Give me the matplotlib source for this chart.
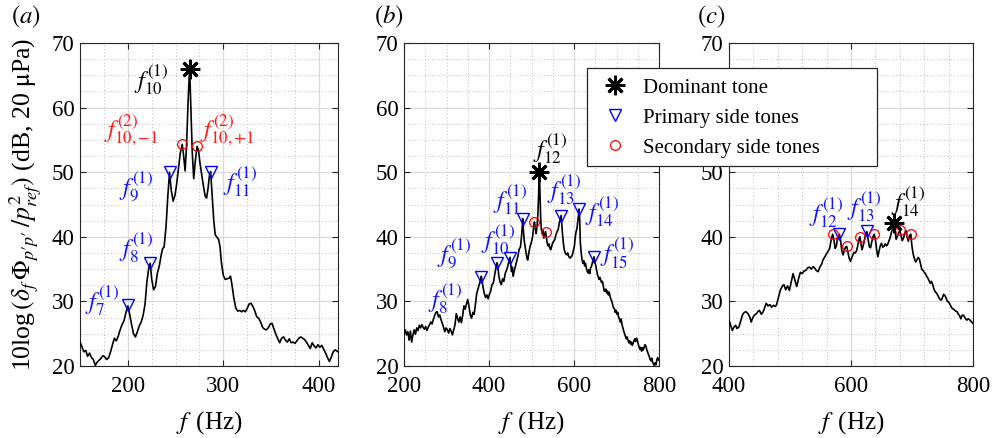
import matplotlib.pyplot as plt
from matplotlib.lines import Line2D
from matplotlib.patches import Rectangle
from matplotlib.ticker import MultipleLocator

# ---- data ----
# panel (a)
fa = [150,152,154,156,158,160,162,164,166,168,170,172,174,176,178,180,182,184,186,188,
      190,192,194,196,198,200,202,204,206,208,210,212,214,216,218,220,222,223.5,225,227,
      229,231,233,235,236.5,238,240,242,243.7,245.5,247.5,249.5,251,253,255,257,258.5,260,261.5,263,
      264.7,266,267.5,269,270.5,272.5,274,275.5,277,279,281,282.5,284,285.5,286.7,288,290,291.5,293,295,
      296.5,298,300,302,304,306,307.5,309,311,313,315,317,319,321,323,325,327,329,331,333,
      335,337,339,341,343,345,347,349,351,353,355,357,359,361,363,365,367,369,371,373,
      375,377,379,381,383,385,387,389,391,393,395,397,399,401,403,405,407,409,411,413,
      415,417,419,420]
La = [23.7,23.0,22.2,22.4,21.5,22.0,21.3,21.0,20.1,20.6,20.9,21.2,21.6,21.4,21.0,21.3,22.2,23.3,24.3,23.9,
      24.6,25.6,26.4,27.0,28.2,29.3,28.0,26.4,25.0,24.5,25.3,26.2,26.8,27.8,29.5,33.0,35.2,35.9,33.5,31.8,
      32.3,34.4,35.5,37.2,38.2,38.4,41.5,46.5,50.0,47.2,45.5,46.5,48.0,50.5,53.0,54.3,52.5,50.2,54.0,60.5,
      66.2,60.0,53.0,49.0,51.5,54.0,53.4,51.5,50.0,48.0,46.3,46.0,47.5,49.5,50.1,47.0,42.5,40.3,40.0,39.6,
      38.5,36.0,34.0,33.4,33.5,33.6,33.9,32.6,30.5,29.0,28.5,28.6,28.4,28.6,28.4,28.9,29.6,29.7,29.2,28.5,
      27.6,27.4,26.8,26.0,25.7,25.6,25.9,26.5,26.6,25.7,24.9,24.2,23.6,24.3,24.5,24.0,23.7,24.2,23.6,23.7,
      23.5,23.9,24.3,24.5,24.3,24.1,23.7,23.2,22.7,23.6,23.1,22.8,23.3,22.9,23.2,22.6,22.0,21.3,20.7,21.4,
      22.2,22.5,22.3,22.2]
a_dom_f, a_dom_L = [264.7], [66.0]
a_prim_f, a_prim_L = [200, 223.5, 243.7, 286.7], [29.4, 35.9, 50.0, 50.1]
a_sec_f, a_sec_L = [257, 272.5], [54.3, 54.0]

# panel (b)
fb = [200,203,206,209,212,215,218,221,224,227,230,233,236,239,242,245,248,251,254,257,
      260,263,266,269,272,275,278,281,284,287,290,293,296,299,302,305,308,311,314,317,
      320,323,326,329,332,335,338,341,344,347,350,353,356,359,362,365,368,371,374,377,
      380,382,384,386,389,392,395,398,401,404,407,410,413,416,419,421,423,426,429,432,
      435,438,441,444,447,449,451,453,455,457,459,462,465,468,471,474,477,479.5,481,483,
      485,487,489,491,493,495,497,499,501,503,505,507,509,511,513,515,517,518.5,520,521.5,
      523,525,527,529,531,533,535,537,539,541,543,545,547,549,551,553,555,557,559,561,
      563,565,567,569.5,571,573,575,577,579,581,583,585,587,589,591,593,595,597,599,601,
      603,605,607,609,611,612,613.5,615,617,619,621,623,625,627,629,631,633,635,637,639,
      641,643,645,647,649,651,653,655,657,659,661,663,665,667,669,671,673,675,677,679,
      681,683,685,687,689,691,693,695,697,699,701,703,705,707,709,711,713,715,717,719,
      721,723,725,727,729,731,733,735,737,739,741,743,745,747,749,751,753,755,757,759,
      761,763,765,767,769,771,773,775,777,779,781,783,785,787,789,791,793,795,797,799,800]
Lb = [25.0,25.6,24.8,25.3,24.0,25.4,23.7,24.8,25.6,24.9,25.9,25.5,26.3,25.9,26.4,26.0,25.7,26.1,25.5,26.0,
      26.4,26.8,26.5,27.2,27.8,28.3,28.4,27.6,27.9,27.2,26.6,26.0,25.3,25.9,25.6,25.1,25.8,25.4,24.8,25.6,
      26.4,28.1,27.4,26.8,27.6,26.7,27.8,29.3,28.8,29.6,30.3,29.2,27.9,27.4,28.3,28.0,29.5,31.2,31.9,32.6,
      33.3,33.9,33.0,32.2,31.2,30.6,31.0,30.4,31.1,31.6,32.6,32.8,34.0,35.1,36.0,35.4,34.0,33.0,32.6,33.5,
      33.1,34.3,34.8,35.4,36.3,36.8,35.9,34.6,35.3,33.9,34.6,35.4,36.2,37.0,38.1,38.4,40.4,42.8,41.0,39.3,
      38.5,37.6,36.8,36.4,37.2,38.0,38.6,39.0,39.5,40.2,41.5,42.3,41.3,40.5,41.6,43.5,47.0,50.2,46.5,43.0,
      41.2,40.5,41.0,39.8,40.3,40.8,40.0,39.0,38.6,38.9,38.3,38.0,38.4,38.9,39.2,39.4,39.6,40.2,40.6,40.9,
      41.2,42.0,42.6,43.3,42.2,40.4,39.0,38.0,37.6,37.3,37.2,37.5,37.1,36.8,36.7,36.9,37.0,37.4,38.0,38.6,
      40.0,40.8,41.3,42.5,43.5,44.3,42.5,39.0,37.5,36.4,35.9,36.3,35.5,35.9,35.2,34.7,34.4,34.9,34.3,35.2,
      35.4,35.9,36.5,36.9,36.2,35.6,34.9,34.2,33.8,33.4,33.7,33.3,32.9,33.1,32.4,31.6,31.6,31.9,31.3,31.6,
      31.0,31.4,30.7,30.3,30.0,29.5,29.0,28.9,28.3,28.6,28.0,28.3,27.6,27.2,26.8,27.3,26.4,25.9,25.4,25.0,
      24.6,24.2,24.5,24.0,23.6,23.9,23.4,23.7,23.2,23.5,23.9,24.2,23.8,24.3,24.0,23.4,23.0,22.6,22.9,22.3,
      22.8,22.5,22.9,23.3,23.1,22.6,22.2,21.8,21.5,21.0,20.8,21.2,20.6,20.3,20.1,20.5,20.2,21.0,21.3,20.9,21.0]
b_dom_f, b_dom_L = [518.5], [50.0]
b_prim_f = [382, 419, 449, 479.5, 569.5, 612, 647]
b_prim_L = [33.7, 36.0, 36.7, 42.7, 43.2, 44.3, 36.9]
b_sec_f, b_sec_L = [507, 533], [42.3, 40.8]

# panel (c)
fc = [400,403,405.5,408,411,413,416,419,422,425,428,431,434,436.5,439,442,445,448,450,453,
      456,459,461,464,467,470,473,476,478,481,484,487,490,493,496,499,502,505,508,511,
      514,517,520,523,526,529,532,535,538,541,543,546,549,552,554,557,560,563,565,568,
      570,572,574,576,578,581,583,585,587,589,591,593,595,597,599,601,603,605,607,609,
      611,613,614.5,616,618,620,622,624,626,628,630,632,634,636,638,640,642,644,646,648,
      650,652,654,656,658,660,662,664,666,668,670,672,674,676,678,680,682,684,686,688,
      690,692,694,696,698,700,702,704,706,708,710,712,714,716,718,720,722,724,726,728,
      730,732,734,736,738,740,742,744,746,748,750,752,754,756,758,760,762,764,766,768,
      770,772,774,776,778,780,782,784,786,788,790,792,794,796,798,800]
Lc = [27.1,26.2,25.5,26.0,26.3,25.8,26.0,26.9,27.9,28.3,28.4,28.1,27.6,26.8,27.5,27.9,28.1,28.5,28.6,28.0,
      28.4,29.2,29.7,29.3,29.5,29.1,29.4,29.2,29.5,30.6,31.7,32.3,32.6,31.8,32.4,31.7,33.0,34.3,33.3,32.3,
      33.5,34.5,34.3,34.7,34.8,35.2,35.3,35.0,35.4,35.1,34.8,34.6,35.3,35.8,36.4,36.9,37.4,37.9,38.2,39.8,
      40.4,39.5,38.2,38.6,39.8,40.4,39.4,37.8,37.2,37.9,38.4,38.5,37.6,36.7,36.2,36.7,37.2,37.6,37.5,37.8,
      38.6,39.6,40.0,39.2,38.0,38.6,39.5,40.3,40.8,39.7,38.5,38.3,39.2,40.0,40.4,39.6,38.0,36.9,37.8,38.6,
      39.0,38.4,38.5,38.9,38.6,38.8,39.3,39.8,40.6,41.2,42.2,41.0,39.6,40.1,40.6,41.0,40.2,39.4,39.8,40.5,
      41.0,40.0,39.3,40.2,40.4,38.5,37.3,36.6,36.1,36.4,36.8,36.6,35.8,35.0,34.8,34.5,34.3,33.9,33.6,33.2,
      32.8,33.1,32.6,31.9,31.5,31.3,31.0,30.6,30.3,30.2,30.6,31.1,30.9,30.5,30.0,29.9,29.6,29.2,28.9,28.8,
      28.6,28.5,28.4,28.0,27.8,27.3,27.8,27.9,27.6,27.3,27.1,27.3,27.2,27.0,26.8,26.6]
c_dom_f, c_dom_L = [670], [42.2]
c_prim_f, c_prim_L = [581, 626], [40.4, 40.9]
c_sec_f = [570, 593, 614.5, 638, 681, 698]
c_sec_L = [40.4, 38.5, 40.0, 40.4, 41.1, 40.4]

legend_labels = ['Dominant tone', 'Primary side tones', 'Secondary side tones']

plt.rcParams['font.family'] = 'Liberation Serif'
plt.rcParams['mathtext.fontset'] = 'stix'

BLUE = '#1414ff'
RED = '#ff1a1a'
dom_style = dict(marker=(8, 2, 0), color='k', ms=14, mew=2.0, ls='none')
prim_style = dict(marker='v', mfc='none', mec='b', ms=8, mew=1.0, ls='none')
sec_style = dict(marker='o', mfc='none', mec='r', ms=7, mew=0.9, ls='none')

fig = plt.figure(figsize=(9.97, 4.38), dpi=100)

W, H = 997, 438
def add_panel(x0, x1):
    return fig.add_axes([x0 / W, 1 - 366 / H, (x1 - x0) / W, 323 / H])

panels = [
    (add_panel(80, 338), fa, La, a_dom_f, a_dom_L, a_prim_f, a_prim_L, a_sec_f, a_sec_L,
     (150, 420), [200, 300, 400], 25, 'a', 26),
    (add_panel(404, 659), fb, Lb, b_dom_f, b_dom_L, b_prim_f, b_prim_L, b_sec_f, b_sec_L,
     (200, 800), [200, 400, 600, 800], 50, 'b', 389),
    (add_panel(729, 973), fc, Lc, c_dom_f, c_dom_L, c_prim_f, c_prim_L, c_sec_f, c_sec_L,
     (400, 800), [400, 600, 800], 40, 'c', 711),
]

for ax, f, L, df, dL, pf, pL, sf, sL, xl, xt, xminor, tag, tagx in panels:
    ax.plot(f, L, color='k', lw=1.2, zorder=3)
    ax.plot(pf, pL, zorder=4, **prim_style)
    ax.plot(sf, sL, zorder=4, **sec_style)
    ax.plot(df, dL, zorder=5, **dom_style)
    ax.set_xlim(*xl)
    ax.set_ylim(20, 70)
    ax.set_xticks(xt)
    ax.set_yticks([20, 30, 40, 50, 60, 70])
    ax.xaxis.set_minor_locator(MultipleLocator(xminor))
    ax.yaxis.set_minor_locator(MultipleLocator(2.5))
    ax.grid(True, which='major', color='#dadada', lw=0.9)
    ax.grid(True, which='minor', color='#bdbdbd', lw=0.7, ls=(0, (1, 2.5)))
    ax.set_axisbelow(True)
    ax.tick_params(which='major', direction='in', length=4, width=0.8,
                   top=True, right=True, labelsize=16.5, color='#262626')
    ax.tick_params(axis='x', which='major', pad=7)
    ax.tick_params(axis='y', which='major', pad=4)
    ax.tick_params(which='minor', length=0)
    for s in ax.spines.values():
        s.set_color('#262626')
        s.set_linewidth(0.8)
    ax.set_xlabel(r'$f\,$ (Hz)', fontsize=18, va='top')
    ax.xaxis.set_label_coords(0.5, -0.135)
    fig.text(tagx / W, 1 - 17 / H, r'$(%s)$' % tag, fontsize=18,
             ha='center', va='center')

axa, axb, axc = panels[0][0], panels[1][0], panels[2][0]
# the 60 label of panel (c) sits under the legend in the original
axc.set_yticklabels(['20', '30', '40', '50', '', '70'])

axa.set_ylabel(r'10log$\,(\delta_f\,\mathit{\Phi}_{p\prime p\prime}\,/p^2_{ref})$ (dB, 20 $\mathrm{\mu}$Pa)',
               fontsize=18.5)
axa.yaxis.set_label_coords(-0.14, 0.5)

fs = 17.5
# annotations panel (a)
axa.text(242, 64.3, r'$f^{(1)}_{10}$', color='k', fontsize=fs, ha='right', va='center')
axa.text(232, 56.6, r'$f^{(2)}_{10,{-}1}$', color=RED, fontsize=fs, ha='right', va='center')
axa.text(276, 56.5, r'$f^{(2)}_{10,{+}1}$', color=RED, fontsize=fs, ha='left', va='center')
axa.text(227, 47.7, r'$f^{(1)}_{9}$', color=BLUE, fontsize=fs, ha='right', va='center')
axa.text(300, 48.4, r'$f^{(1)}_{11}$', color=BLUE, fontsize=fs, ha='left', va='center')
axa.text(227, 38.3, r'$f^{(1)}_{8}$', color=BLUE, fontsize=fs, ha='right', va='center')
axa.text(191, 30.0, r'$f^{(1)}_{7}$', color=BLUE, fontsize=fs, ha='right', va='center')

# annotations panel (b)
axb.text(544, 53.5, r'$f^{(1)}_{12}$', color='k', fontsize=fs, ha='center', va='center')
axb.text(490, 45.6, r'$f^{(1)}_{11}$', color=BLUE, fontsize=fs, ha='right', va='center')
axb.text(536, 47.2, r'$f^{(1)}_{13}$', color=BLUE, fontsize=fs, ha='left', va='center')
axb.text(626, 43.8, r'$f^{(1)}_{14}$', color=BLUE, fontsize=fs, ha='left', va='center')
axb.text(661, 37.4, r'$f^{(1)}_{15}$', color=BLUE, fontsize=fs, ha='left', va='center')
axb.text(462, 39.5, r'$f^{(1)}_{10}$', color=BLUE, fontsize=fs, ha='right', va='center')
axb.text(357, 37.2, r'$f^{(1)}_{9}$', color=BLUE, fontsize=fs, ha='right', va='center')
axb.text(338, 30.4, r'$f^{(1)}_{8}$', color=BLUE, fontsize=fs, ha='right', va='center')

# annotations panel (c)
axc.text(587, 43.6, r'$f^{(1)}_{12}$', color=BLUE, fontsize=fs, ha='right', va='center')
axc.text(649, 44.6, r'$f^{(1)}_{13}$', color=BLUE, fontsize=fs, ha='right', va='center')
axc.text(666, 45.4, r'$f^{(1)}_{14}$', color='k', fontsize=fs, ha='left', va='center')

# legend: MATLAB-style box with wide right margin
fig.patches.append(Rectangle((587 / W, 1 - 166 / H), 290 / W, 98 / H,
                             transform=fig.transFigure, facecolor='white',
                             edgecolor='#262626', lw=0.9, zorder=10))
handles = [Line2D([], [], **dom_style), Line2D([], [], **prim_style),
           Line2D([], [], **sec_style)]
leg = fig.legend(handles, legend_labels, loc='upper left',
                 bbox_to_anchor=(598 / W, 1 - 74 / H), fontsize=15,
                 frameon=False, handlelength=1.2, handletextpad=0.75,
                 borderpad=0.2, labelspacing=0.5, borderaxespad=0)
leg.set_zorder(11)

fig.savefig('out.png', dpi=100)
